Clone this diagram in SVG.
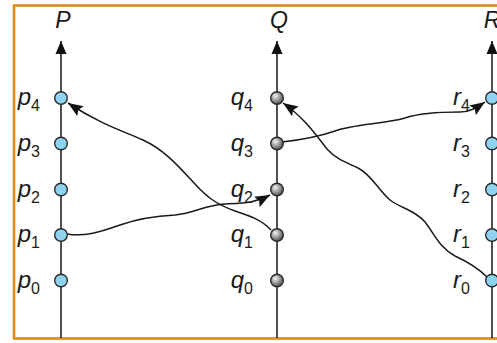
<svg xmlns="http://www.w3.org/2000/svg" width="497" height="343" viewBox="0 0 497 343">
<style>
.frame{fill:none;stroke:#DE8A1F;stroke-width:2.6}
.axis{stroke:#222;stroke-width:1.6;fill:none}
.msg{stroke:#1a1a1a;stroke-width:1.5;fill:none}
.blue{fill:#8FD3F1;stroke:#2a2a2a;stroke-width:1.4}
.gray{fill:url(#sph);stroke:#2a2a2a;stroke-width:1.4}
.lbl{font-family:"Liberation Sans",Arial,sans-serif;font-size:24px;font-style:italic;fill:#1a1a1a}
.sub{font-size:16px;font-style:normal}
.ttl{font-family:"Liberation Sans",Arial,sans-serif;font-size:23px;font-style:italic;fill:#1a1a1a;text-anchor:middle}
</style>
<defs>
<radialGradient id="sph" cx="38%" cy="35%" r="70%">
<stop offset="0" stop-color="#f2f2f2"/>
<stop offset="0.5" stop-color="#9c9c9c"/>
<stop offset="1" stop-color="#454545"/>
</radialGradient>
<marker id="ah" markerUnits="userSpaceOnUse" markerWidth="16" markerHeight="12" refX="14" refY="5.5" orient="auto" viewBox="0 0 15 11">
<path d="M0,0 L14,5.5 L0,11 L2.5,5.5 Z" fill="#111"/>
</marker>
<marker id="ax" markerUnits="userSpaceOnUse" markerWidth="14" markerHeight="12" refX="13" refY="5.5" orient="auto" viewBox="0 0 14 11">
<path d="M0,0 L13,5.5 L0,11 Z" fill="#111"/>
</marker>
</defs>
<rect class="frame" x="14" y="5.5" width="500" height="333"/>
<g id="axes">
<line class="axis" x1="61" y1="338" x2="61" y2="41" marker-end="url(#ax)"/>
<line class="axis" x1="277" y1="338" x2="277" y2="41" marker-end="url(#ax)"/>
<line class="axis" x1="492" y1="338" x2="492" y2="41" marker-end="url(#ax)"/>
<text class="ttl" x="63" y="28">P</text>
<text class="ttl" x="279" y="28">Q</text>
<text class="ttl" x="492" y="28">R</text>
</g>
<g id="connectors">
<path class="msg" d="M271,230 C262,220 250,216 235,211 C215,204 205,195 195,184 C180,168 165,150 143,140 C120,130 100,124 68,103" marker-end="url(#ah)"/>
<path class="msg" d="M67,234 C85,237 100,232 120,225 C140,218 155,216 175,215 C195,213 205,205 225,204 C245,203 255,203 270,195" marker-end="url(#ah)"/>
<path class="msg" d="M282,142 C300,140 315,138 335,131 C355,124 385,124 405,118 C420,113 440,112 460,112 C470,112 476,108 485,102" marker-end="url(#ah)"/>
<path class="msg" d="M487,277 C480,270 468,262 455,256 C440,248 435,235 425,222 C415,210 400,208 390,200 C378,190 372,175 358,168 C345,162 335,158 328,150 C318,138 305,118 283,103" marker-end="url(#ah)"/>
</g>
<g id="P">
<g id="p4"><circle class="blue" cx="61" cy="98" r="6.3"/><text class="lbl" x="40" y="105" text-anchor="end">p<tspan class="sub" dy="6">4</tspan></text></g>
<g id="p3"><circle class="blue" cx="61" cy="143.5" r="6.3"/><text class="lbl" x="40" y="150.5" text-anchor="end">p<tspan class="sub" dy="6">3</tspan></text></g>
<g id="p2"><circle class="blue" cx="61" cy="189.5" r="6.3"/><text class="lbl" x="40" y="196.5" text-anchor="end">p<tspan class="sub" dy="6">2</tspan></text></g>
<g id="p1"><circle class="blue" cx="61" cy="235" r="6.3"/><text class="lbl" x="40" y="242" text-anchor="end">p<tspan class="sub" dy="6">1</tspan></text></g>
<g id="p0"><circle class="blue" cx="61" cy="280.5" r="6.3"/><text class="lbl" x="40" y="287.5" text-anchor="end">p<tspan class="sub" dy="6">0</tspan></text></g>
</g>
<g id="Q">
<g id="q4"><circle class="gray" cx="277" cy="98" r="6.3"/><text class="lbl" x="253" y="105" text-anchor="end">q<tspan class="sub" dy="6">4</tspan></text></g>
<g id="q3"><circle class="gray" cx="277" cy="143.5" r="6.3"/><text class="lbl" x="253" y="150.5" text-anchor="end">q<tspan class="sub" dy="6">3</tspan></text></g>
<g id="q2"><circle class="gray" cx="277" cy="189.5" r="6.3"/><text class="lbl" x="253" y="196.5" text-anchor="end">q<tspan class="sub" dy="6">2</tspan></text></g>
<g id="q1"><circle class="gray" cx="277" cy="235" r="6.3"/><text class="lbl" x="253" y="242" text-anchor="end">q<tspan class="sub" dy="6">1</tspan></text></g>
<g id="q0"><circle class="gray" cx="277" cy="280.5" r="6.3"/><text class="lbl" x="253" y="287.5" text-anchor="end">q<tspan class="sub" dy="6">0</tspan></text></g>
</g>
<g id="R">
<g id="r4"><circle class="blue" cx="492" cy="98" r="6.3"/><text class="lbl" x="470" y="105" text-anchor="end">r<tspan class="sub" dy="6">4</tspan></text></g>
<g id="r3"><circle class="blue" cx="492" cy="143.5" r="6.3"/><text class="lbl" x="470" y="150.5" text-anchor="end">r<tspan class="sub" dy="6">3</tspan></text></g>
<g id="r2"><circle class="blue" cx="492" cy="189.5" r="6.3"/><text class="lbl" x="470" y="196.5" text-anchor="end">r<tspan class="sub" dy="6">2</tspan></text></g>
<g id="r1"><circle class="blue" cx="492" cy="235" r="6.3"/><text class="lbl" x="470" y="242" text-anchor="end">r<tspan class="sub" dy="6">1</tspan></text></g>
<g id="r0"><circle class="blue" cx="492" cy="280.5" r="6.3"/><text class="lbl" x="470" y="287.5" text-anchor="end">r<tspan class="sub" dy="6">0</tspan></text></g>
</g>
</svg>
